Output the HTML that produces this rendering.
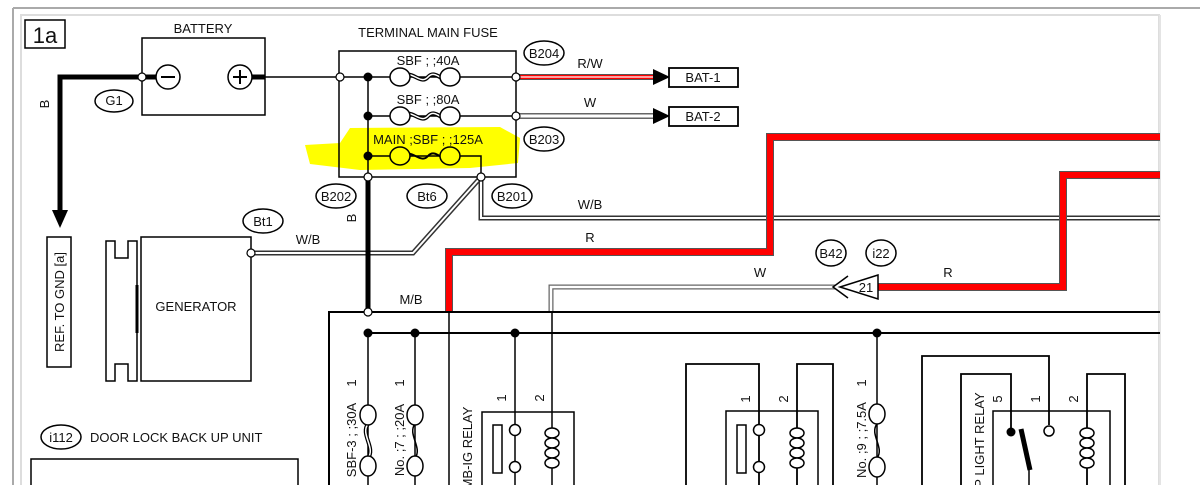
<!DOCTYPE html>
<html><head><meta charset="utf-8"><style>
html,body{margin:0;padding:0;background:#fff;width:1200px;height:485px;overflow:hidden}
svg{display:block}
text{font-family:"Liberation Sans",Arial,sans-serif;font-size:13px;fill:#111}
</style></head><body>
<svg width="1200" height="485" viewBox="0 0 1200 485" xmlns="http://www.w3.org/2000/svg">
<defs>
<g id="coil" fill="#fff" stroke="#000" stroke-width="1.5">
<ellipse cx="0" cy="0" rx="7" ry="5"/><ellipse cx="0" cy="10" rx="7" ry="5"/><ellipse cx="0" cy="20" rx="7" ry="5"/><ellipse cx="0" cy="30" rx="7" ry="5"/>
</g>
</defs>
<!-- frame -->
<line x1="13" y1="8" x2="1200" y2="8" stroke="#aaa" stroke-width="2"/>
<line x1="13" y1="8" x2="13" y2="485" stroke="#aaa" stroke-width="2"/>
<rect x="21" y="15" width="1138" height="480" fill="#fff" stroke="#ddd" stroke-width="2"/>
<line x1="1160" y1="15" x2="1160" y2="485" stroke="#e4e4e4" stroke-width="2"/>

<rect x="25" y="20" width="40" height="28" fill="none" stroke="#000" stroke-width="1.5"/>
<text x="45" y="43" text-anchor="middle" style="font-size:22px">1a</text>

<!-- yellow highlight -->
<path d="M305,145 L340,143 L350,128 L500,127 L520,138 L518,163 L470,168 L360,170 L310,164 Z" fill="#ffff00"/>

<!-- battery -->
<text x="203" y="33" text-anchor="middle">BATTERY</text>
<rect x="142" y="38" width="123" height="77" fill="none" stroke="#000" stroke-width="1.5"/>
<line x1="142" y1="77" x2="160" y2="77" stroke="#000" stroke-width="5"/>
<line x1="248" y1="77" x2="265" y2="77" stroke="#000" stroke-width="5"/>
<circle cx="168" cy="77" r="12" fill="#fff" stroke="#000" stroke-width="1.5"/>
<line x1="161" y1="77" x2="175" y2="77" stroke="#000" stroke-width="2"/>
<circle cx="240" cy="77" r="12" fill="#fff" stroke="#000" stroke-width="1.5"/>
<line x1="233" y1="77" x2="247" y2="77" stroke="#000" stroke-width="2"/>
<line x1="240" y1="70" x2="240" y2="84" stroke="#000" stroke-width="2"/>

<!-- ground wire -->
<path d="M142,77 H60 V212" fill="none" stroke="#000" stroke-width="5"/>
<path d="M52,210 L68,210 L60,228 Z" fill="#000"/>
<circle cx="142" cy="77" r="4" fill="#fff" stroke="#000" stroke-width="1.2"/>
<text transform="translate(49,104) rotate(-90)" text-anchor="middle">B</text>
<ellipse cx="114" cy="101" rx="19" ry="11" fill="#fff" stroke="#000" stroke-width="1.5"/>
<text x="114" y="105" text-anchor="middle">G1</text>
<rect x="47" y="237" width="24" height="130" fill="#fff" stroke="#000" stroke-width="1.5"/>
<text transform="translate(64,302) rotate(-90)" text-anchor="middle">REF. TO GND [a]</text>

<line x1="265" y1="77" x2="340" y2="77" stroke="#000" stroke-width="1.5"/>

<!-- terminal main fuse -->
<text x="428" y="37" text-anchor="middle">TERMINAL MAIN FUSE</text>
<rect x="339" y="51" width="177" height="126" fill="none" stroke="#000" stroke-width="1.5"/>
<line x1="340" y1="77" x2="516" y2="77" stroke="#000" stroke-width="1.5"/>
<line x1="368" y1="116" x2="516" y2="116" stroke="#000" stroke-width="1.5"/>
<path d="M368,156 H481 V177" fill="none" stroke="#000" stroke-width="1.5"/>
<line x1="368" y1="77" x2="368" y2="177" stroke="#000" stroke-width="1.5"/>
<g id="hf">
<path d="M400,77 C412,68 420,86 428,77 C436,68 444,86 450,77" fill="none" stroke="#000" stroke-width="4"/>
<path d="M400,77 C412,68 420,86 428,77 C436,68 444,86 450,77" fill="none" stroke="#fff" stroke-width="1.5"/>
<ellipse cx="400" cy="77" rx="10" ry="9" fill="#fff" stroke="#000" stroke-width="1.5"/>
<ellipse cx="450" cy="77" rx="10" ry="9" fill="#fff" stroke="#000" stroke-width="1.5"/>
</g>
<use href="#hf" transform="translate(0,39)"/>
<g transform="translate(0,79)">
<path d="M400,77 C412,68 420,86 428,77 C436,68 444,86 450,77" fill="none" stroke="#000" stroke-width="2"/>
<ellipse cx="400" cy="77" rx="10" ry="9" fill="#ffff00" stroke="#000" stroke-width="1.5"/>
<ellipse cx="450" cy="77" rx="10" ry="9" fill="#ffff00" stroke="#000" stroke-width="1.5"/>
</g>
<text x="428" y="65" text-anchor="middle">SBF ; ;40A</text>
<text x="428" y="104" text-anchor="middle">SBF ; ;80A</text>
<text x="428" y="144" text-anchor="middle">MAIN ;SBF ; ;125A</text>
<circle cx="368" cy="77" r="4.5" fill="#000"/>
<circle cx="368" cy="116" r="4.5" fill="#000"/>
<circle cx="368" cy="156" r="4.5" fill="#000"/>

<!-- BAT wires -->
<line x1="516" y1="77" x2="656" y2="77" stroke="#555" stroke-width="6"/>
<line x1="516" y1="77" x2="656" y2="77" stroke="#f00" stroke-width="4"/>
<line x1="516" y1="77" x2="656" y2="77" stroke="#fff" stroke-width="1.2"/>
<path d="M653,69 L670,77 L653,85 Z" fill="#000"/>
<text x="590" y="68" text-anchor="middle">R/W</text>
<line x1="516" y1="116" x2="656" y2="116" stroke="#666" stroke-width="6"/>
<line x1="516" y1="116" x2="656" y2="116" stroke="#fff" stroke-width="3"/>
<path d="M653,108 L670,116 L653,124 Z" fill="#000"/>
<text x="590" y="107" text-anchor="middle">W</text>
<rect x="669" y="68" width="69" height="19" fill="#fff" stroke="#000" stroke-width="1.8"/>
<text x="703" y="82" text-anchor="middle">BAT-1</text>
<rect x="669" y="107" width="69" height="19" fill="#fff" stroke="#000" stroke-width="1.8"/>
<text x="703" y="121" text-anchor="middle">BAT-2</text>

<!-- W/B wires -->
<path d="M481,177 V218 H1160" fill="none" stroke="#333" stroke-width="5"/>
<path d="M481,177 V218 H1160" fill="none" stroke="#fff" stroke-width="2"/>
<path d="M481,177 L413,253 H250" fill="none" stroke="#333" stroke-width="5"/>
<path d="M481,177 L413,253 H250" fill="none" stroke="#fff" stroke-width="2"/>
<text x="590" y="209" text-anchor="middle">W/B</text>
<text x="308" y="244" text-anchor="middle">W/B</text>

<circle cx="516" cy="77" r="4" fill="#fff" stroke="#000" stroke-width="1.2"/>
<circle cx="516" cy="116" r="4" fill="#fff" stroke="#000" stroke-width="1.2"/>
<circle cx="340" cy="77" r="4" fill="#fff" stroke="#000" stroke-width="1.2"/>
<circle cx="481" cy="177" r="4" fill="#fff" stroke="#000" stroke-width="1.2"/>

<g stroke="#000" stroke-width="1.5" fill="#fff">
<ellipse cx="544" cy="53" rx="20" ry="12"/>
<ellipse cx="544" cy="139" rx="20" ry="12"/>
<ellipse cx="336" cy="196" rx="20" ry="12"/>
<ellipse cx="427" cy="196" rx="20" ry="12"/>
<ellipse cx="512" cy="196" rx="20" ry="12"/>
<ellipse cx="263" cy="221" rx="20" ry="12"/>
<ellipse cx="831" cy="253" rx="15" ry="13"/>
<ellipse cx="881" cy="253" rx="15" ry="13"/>
<ellipse cx="61" cy="437" rx="20" ry="12"/>
</g>
<g text-anchor="middle">
<text x="544" y="58">B204</text>
<text x="544" y="144">B203</text>
<text x="336" y="201">B202</text>
<text x="427" y="201">Bt6</text>
<text x="512" y="201">B201</text>
<text x="263" y="226">Bt1</text>
<text x="831" y="258">B42</text>
<text x="881" y="258">i22</text>
<text x="61" y="442">i112</text>
</g>
<text x="90" y="442">DOOR LOCK BACK UP UNIT</text>
<rect x="31" y="459" width="267" height="40" fill="none" stroke="#000" stroke-width="1.5"/>

<!-- generator -->
<path d="M106,241 H115 V258 H128 V241 H137 V381 H128 V364 H115 V381 H106 Z" fill="#fff" stroke="#000" stroke-width="1.5"/>
<line x1="137" y1="285" x2="137" y2="333" stroke="#000" stroke-width="3"/>
<rect x="141" y="237" width="110" height="144" fill="#fff" stroke="#000" stroke-width="1.5"/>
<text x="196" y="311" text-anchor="middle">GENERATOR</text>
<circle cx="251" cy="253" r="4" fill="#fff" stroke="#000" stroke-width="1.2"/>

<line x1="368" y1="177" x2="368" y2="311" stroke="#000" stroke-width="5"/>
<circle cx="368" cy="177" r="4" fill="#fff" stroke="#000" stroke-width="1.2"/>
<text transform="translate(356,218) rotate(-90)" text-anchor="middle">B</text>
<text x="411" y="304" text-anchor="middle">M/B</text>

<!-- red wires -->
<path d="M1160,137 H770 V252 H449 V311" fill="none" stroke="#555" stroke-width="8"/>
<path d="M1160,137 H770 V252 H449 V311" fill="none" stroke="#f00" stroke-width="6"/>
<text x="590" y="242" text-anchor="middle">R</text>
<path d="M1160,175 H1063 V287 H878" fill="none" stroke="#555" stroke-width="8"/>
<path d="M1160,175 H1063 V287 H878" fill="none" stroke="#f00" stroke-width="6"/>
<text x="948" y="277" text-anchor="middle">R</text>

<path d="M835,287 H551 V311" fill="none" stroke="#666" stroke-width="5"/>
<path d="M835,287 H551 V311" fill="none" stroke="#fff" stroke-width="2.5"/>
<text x="760" y="277" text-anchor="middle">W</text>
<path d="M878,275 L840,287 L878,299 Z" fill="#fff" stroke="#000" stroke-width="1.5"/>
<path d="M848,276 L833,287 L848,298" fill="none" stroke="#000" stroke-width="1.5"/>
<text x="866" y="292" text-anchor="middle">21</text>

<!-- main box -->
<path d="M329,485 V312 H1160" fill="none" stroke="#000" stroke-width="2"/>
<line x1="368" y1="333" x2="1160" y2="333" stroke="#000" stroke-width="2"/>
<circle cx="368" cy="312" r="4" fill="#fff" stroke="#000" stroke-width="1.2"/>
<g fill="#000">
<circle cx="368" cy="333" r="4.5"/><circle cx="415" cy="333" r="4.5"/>
<circle cx="515" cy="333" r="4.5"/><circle cx="877" cy="333" r="4.5"/>
</g>
<g stroke="#000" stroke-width="1.5" fill="none">
<line x1="368" y1="333" x2="368" y2="485"/>
<line x1="415" y1="333" x2="415" y2="485"/>
<line x1="449" y1="311" x2="449" y2="485"/>
<line x1="552" y1="311" x2="552" y2="485"/>
<line x1="515" y1="333" x2="515" y2="485"/>
<line x1="877" y1="333" x2="877" y2="485"/>
</g>
<g stroke="#000" stroke-width="1.5" fill="#fff">
<path d="M368,424 C360,434 376,448 368,458" stroke-width="4" fill="none"/>
<path d="M368,424 C360,434 376,448 368,458" stroke="#fff" stroke-width="1.5" fill="none"/>
<path d="M415,424 C407,434 423,448 415,458" fill="none"/>
<path d="M877,424 C869,434 885,448 877,458" fill="none"/>
<ellipse cx="368" cy="415" rx="8" ry="10"/><ellipse cx="368" cy="466" rx="8" ry="10"/>
<ellipse cx="415" cy="415" rx="8" ry="10"/><ellipse cx="415" cy="466" rx="8" ry="10"/>
<ellipse cx="877" cy="414" rx="8" ry="10"/><ellipse cx="877" cy="467" rx="8" ry="10"/>
</g>
<text transform="translate(356,383) rotate(-90)" text-anchor="middle">1</text>
<text transform="translate(356,440) rotate(-90)" text-anchor="middle">SBF-3 ; ;30A</text>
<text transform="translate(404,383) rotate(-90)" text-anchor="middle">1</text>
<text transform="translate(404,440) rotate(-90)" text-anchor="middle">No. ;7 ; ;20A</text>
<text transform="translate(866,383) rotate(-90)" text-anchor="middle">1</text>
<text transform="translate(866,440) rotate(-90)" text-anchor="middle">No. ;9 ; ;7.5A</text>

<!-- relay 1 -->
<rect x="482" y="412" width="92" height="90" fill="none" stroke="#000" stroke-width="1.5"/>
<text transform="translate(472,448) rotate(-90)" text-anchor="middle">MB-IG RELAY</text>
<text transform="translate(506,398) rotate(-90)" text-anchor="middle">1</text>
<text transform="translate(544,398) rotate(-90)" text-anchor="middle">2</text>
<rect x="493" y="425" width="9" height="48" fill="#fff" stroke="#000" stroke-width="1.5"/>
<circle cx="515" cy="430" r="5.5" fill="#fff" stroke="#000" stroke-width="1.5"/>
<circle cx="515" cy="467" r="5.5" fill="#fff" stroke="#000" stroke-width="1.5"/>
<use href="#coil" transform="translate(552,433)"/>

<!-- relay 2 -->
<path d="M686,485 V364 H759 V485" fill="none" stroke="#000" stroke-width="1.8"/>
<path d="M797,485 V364 H833 V485" fill="none" stroke="#000" stroke-width="1.8"/>
<rect x="726" y="411" width="92" height="90" fill="none" stroke="#000" stroke-width="1.5"/>
<text transform="translate(750,399) rotate(-90)" text-anchor="middle">1</text>
<text transform="translate(788,399) rotate(-90)" text-anchor="middle">2</text>
<rect x="737" y="425" width="9" height="48" fill="#fff" stroke="#000" stroke-width="1.5"/>
<circle cx="759" cy="430" r="5.5" fill="#fff" stroke="#000" stroke-width="1.5"/>
<circle cx="759" cy="467" r="5.5" fill="#fff" stroke="#000" stroke-width="1.5"/>
<use href="#coil" transform="translate(797,433)"/>

<!-- relay 3 -->
<path d="M922,485 V356 H1049 V425" fill="none" stroke="#000" stroke-width="1.8"/>
<path d="M961,485 V374 H1011 V432" fill="none" stroke="#000" stroke-width="1.8"/>
<path d="M1087,485 V374 H1125 V485" fill="none" stroke="#000" stroke-width="1.8"/>
<rect x="993" y="411" width="117" height="90" fill="none" stroke="#000" stroke-width="1.5"/>
<text transform="translate(984,440) rotate(-90)" text-anchor="middle">P LIGHT RELAY</text>
<text transform="translate(1002,399) rotate(-90)" text-anchor="middle">5</text>
<text transform="translate(1040,399) rotate(-90)" text-anchor="middle">1</text>
<text transform="translate(1078,399) rotate(-90)" text-anchor="middle">2</text>
<circle cx="1049" cy="431" r="5" fill="#fff" stroke="#000" stroke-width="1.5"/>
<circle cx="1011" cy="432" r="4.5" fill="#000"/>
<line x1="1021" y1="429" x2="1030" y2="470" stroke="#000" stroke-width="5"/>
<line x1="1029" y1="470" x2="1029" y2="485" stroke="#000" stroke-width="1.5"/>
<use href="#coil" transform="translate(1087,433)"/>
</svg>
</body></html>
